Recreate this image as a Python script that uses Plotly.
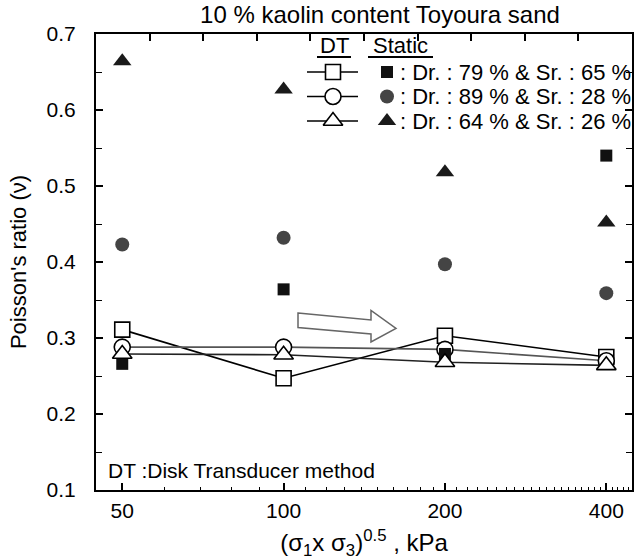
import plotly.graph_objects as go

# ---- data ----
stress = [50, 100, 200, 400]
dt_dr79 = [0.311, 0.247, 0.303, 0.275]
dt_dr89 = [0.288, 0.288, 0.285, 0.270]
dt_dr64 = [0.279, 0.278, 0.268, 0.264]
st_dr79 = [0.266, 0.364, 0.279, 0.540]
st_dr89 = [0.423, 0.432, 0.397, 0.359]
st_dr64 = [0.664, 0.627, 0.518, 0.452]

legend_labels = [": Dr. : 79 % & Sr. : 65 %",
                 ": Dr. : 89 % & Sr. : 28 %",
                 ": Dr. : 64 % & Sr. : 26 %"]
x_ticks = [50, 100, 200, 400]
x_minor = [60, 70, 80, 90] + list(range(110, 200, 10)) + list(range(210, 450, 10))

FONT = "Liberation Sans, Arial, sans-serif"
W, H = 640, 560
L, R, T, B = 96, 632, 34, 490

fig = go.Figure()

def dt_trace(y, sym, size, lcolor):
    fig.add_trace(go.Scatter(
        x=stress, y=y, mode="lines+markers",
        line=dict(color=lcolor, width=1.6),
        marker=dict(symbol=sym, size=size, color="white",
                    line=dict(color="black", width=1.6)),
        showlegend=False, cliponaxis=False))

def st_trace(y, sym, size, color):
    fig.add_trace(go.Scatter(
        x=stress, y=y, mode="markers",
        marker=dict(symbol=sym, size=size, color=color, line=dict(width=0)),
        showlegend=False, cliponaxis=False))

dt_trace(dt_dr79, "square", 15, "black")
dt_trace(dt_dr89, "circle", 16, "#555555")
st_trace(st_dr79, "square", 12, "#111111")
st_trace(st_dr89, "circle", 14, "#444444")
st_trace(st_dr64, "triangle-up", 16, "#1a1a1a")
dt_trace(dt_dr64, "triangle-up", 17, "#222222")

# dummy trace to keep top axis alive
fig.add_trace(go.Scatter(x=[None], y=[None], xaxis="x2", yaxis="y", showlegend=False))

# ---- in-plot legend on a pixel-mapped overlay axis ----
rows_y = [72, 96.5, 121]
dt_syms = [("square", 15), ("circle", 16), ("triangle-up", 17)]
st_syms = [("square", 12, "#111111"), ("circle", 14, "#444444"), ("triangle-up", 16, "#1a1a1a")]
for i, yy in enumerate(rows_y):
    fig.add_trace(go.Scatter(x=[307, 358], y=[yy, yy], mode="lines",
                             line=dict(color="black", width=1.6),
                             xaxis="x3", yaxis="y3", showlegend=False))
    fig.add_trace(go.Scatter(x=[333], y=[yy], mode="markers",
                             marker=dict(symbol=dt_syms[i][0], size=dt_syms[i][1], color="white",
                                         line=dict(color="black", width=1.6)),
                             xaxis="x3", yaxis="y3", showlegend=False))
    fig.add_trace(go.Scatter(x=[387], y=[yy], mode="markers",
                             marker=dict(symbol=st_syms[i][0], size=st_syms[i][1], color=st_syms[i][2]),
                             xaxis="x3", yaxis="y3", showlegend=False))

annotations = []
for i, yy in enumerate(rows_y):
    annotations.append(dict(x=398, y=yy, xref="x3", yref="y3", text=legend_labels[i],
                            showarrow=False, xanchor="left", yanchor="middle",
                            font=dict(family=FONT, size=22, color="black")))
annotations.append(dict(x=334, y=45, xref="x3", yref="y3", text="DT", showarrow=False,
                        xanchor="center", yanchor="middle", font=dict(family=FONT, size=22, color="black")))
annotations.append(dict(x=400, y=45, xref="x3", yref="y3", text="Static", showarrow=False,
                        xanchor="center", yanchor="middle", font=dict(family=FONT, size=22, color="black")))
annotations.append(dict(x=106, y=470, xref="x3", yref="y3", text="DT :Disk Transducer method",
                        showarrow=False, xanchor="left", yanchor="middle",
                        font=dict(family=FONT, size=21, color="black")))

shapes = [
    dict(type="line", xref="x3", yref="y3", x0=317, x1=351, y0=57, y1=57,
         line=dict(color="black", width=2)),
    dict(type="line", xref="x3", yref="y3", x0=368, x1=433, y0=57, y1=57,
         line=dict(color="black", width=2)),
    dict(type="path", xref="x3", yref="y3",
         path="M 298 313 L 371 320 L 371 310.5 L 396 328.5 L 371 342 L 371 334 L 298 327.5 Z",
         line=dict(color="#666666", width=1.5), fillcolor="white"),
]

axis_font = dict(family=FONT, size=21, color="black")

fig.update_layout(
    width=W, height=H,
    margin=dict(l=L, r=W - R, t=T, b=H - B, pad=0, autoexpand=False),
    paper_bgcolor="white", plot_bgcolor="white",
    font=dict(family=FONT, color="black"),
    title=dict(text="10 % kaolin content Toyoura sand", x=380 / W, xref="container",
               xanchor="center", y=1 - 15 / H, yref="container", yanchor="middle",
               font=dict(family=FONT, size=24, color="black")),
    xaxis=dict(type="log", range=[1.65, 2.65], tickmode="array", tickvals=x_ticks,
               ticktext=[str(v) for v in x_ticks], ticks="inside", ticklen=7, tickwidth=1.5,
               tickcolor="black", showline=True, linecolor="black", linewidth=2,
               showgrid=False, zeroline=False, mirror=False, tickfont=axis_font,
               ticklabelstandoff=1, automargin=False,
               minor=dict(tickmode="array", tickvals=x_minor, ticks="inside", ticklen=3.5,
                          tickwidth=1.2, tickcolor="black", showgrid=False),
               title=dict(text="(σ<sub>1</sub>x σ<sub>3</sub>)<sup>0.5</sup> , kPa",
                          font=dict(family=FONT, size=24, color="black"), standoff=16)),
    xaxis2=dict(overlaying="x", side="top", anchor="y", range=[0, 10], tickmode="array",
                tickvals=list(range(1, 10)), ticks="inside", ticklen=7, tickwidth=1.5,
                tickcolor="black", showticklabels=False, showline=True, linecolor="black",
                linewidth=2, showgrid=False, zeroline=False, automargin=False),
    yaxis=dict(range=[0.1, 0.7], tickmode="linear", tick0=0.1, dtick=0.1, tickformat=".1f",
               ticks="inside", ticklen=7, tickwidth=1.5, tickcolor="black",
               showline=True, linecolor="black", linewidth=2, mirror="ticks",
               showgrid=False, zeroline=False, tickfont=axis_font, ticklabelstandoff=14,
               automargin=False,
               minor=dict(tick0=0.15, dtick=0.1, ticks="inside", ticklen=6, tickwidth=1.2,
                          tickcolor="black", showgrid=False),
               title=dict(text="Poisson's ratio (ν)", font=dict(family=FONT, size=22, color="black"),
                          standoff=14)),
    xaxis3=dict(domain=[0, 1], range=[L, R], visible=False, anchor="y3", overlaying="x"),
    yaxis3=dict(domain=[0, 1], range=[B, T], visible=False, anchor="x3", overlaying="y"),
    annotations=annotations,
    shapes=shapes,
)

fig.write_html("out.html")
